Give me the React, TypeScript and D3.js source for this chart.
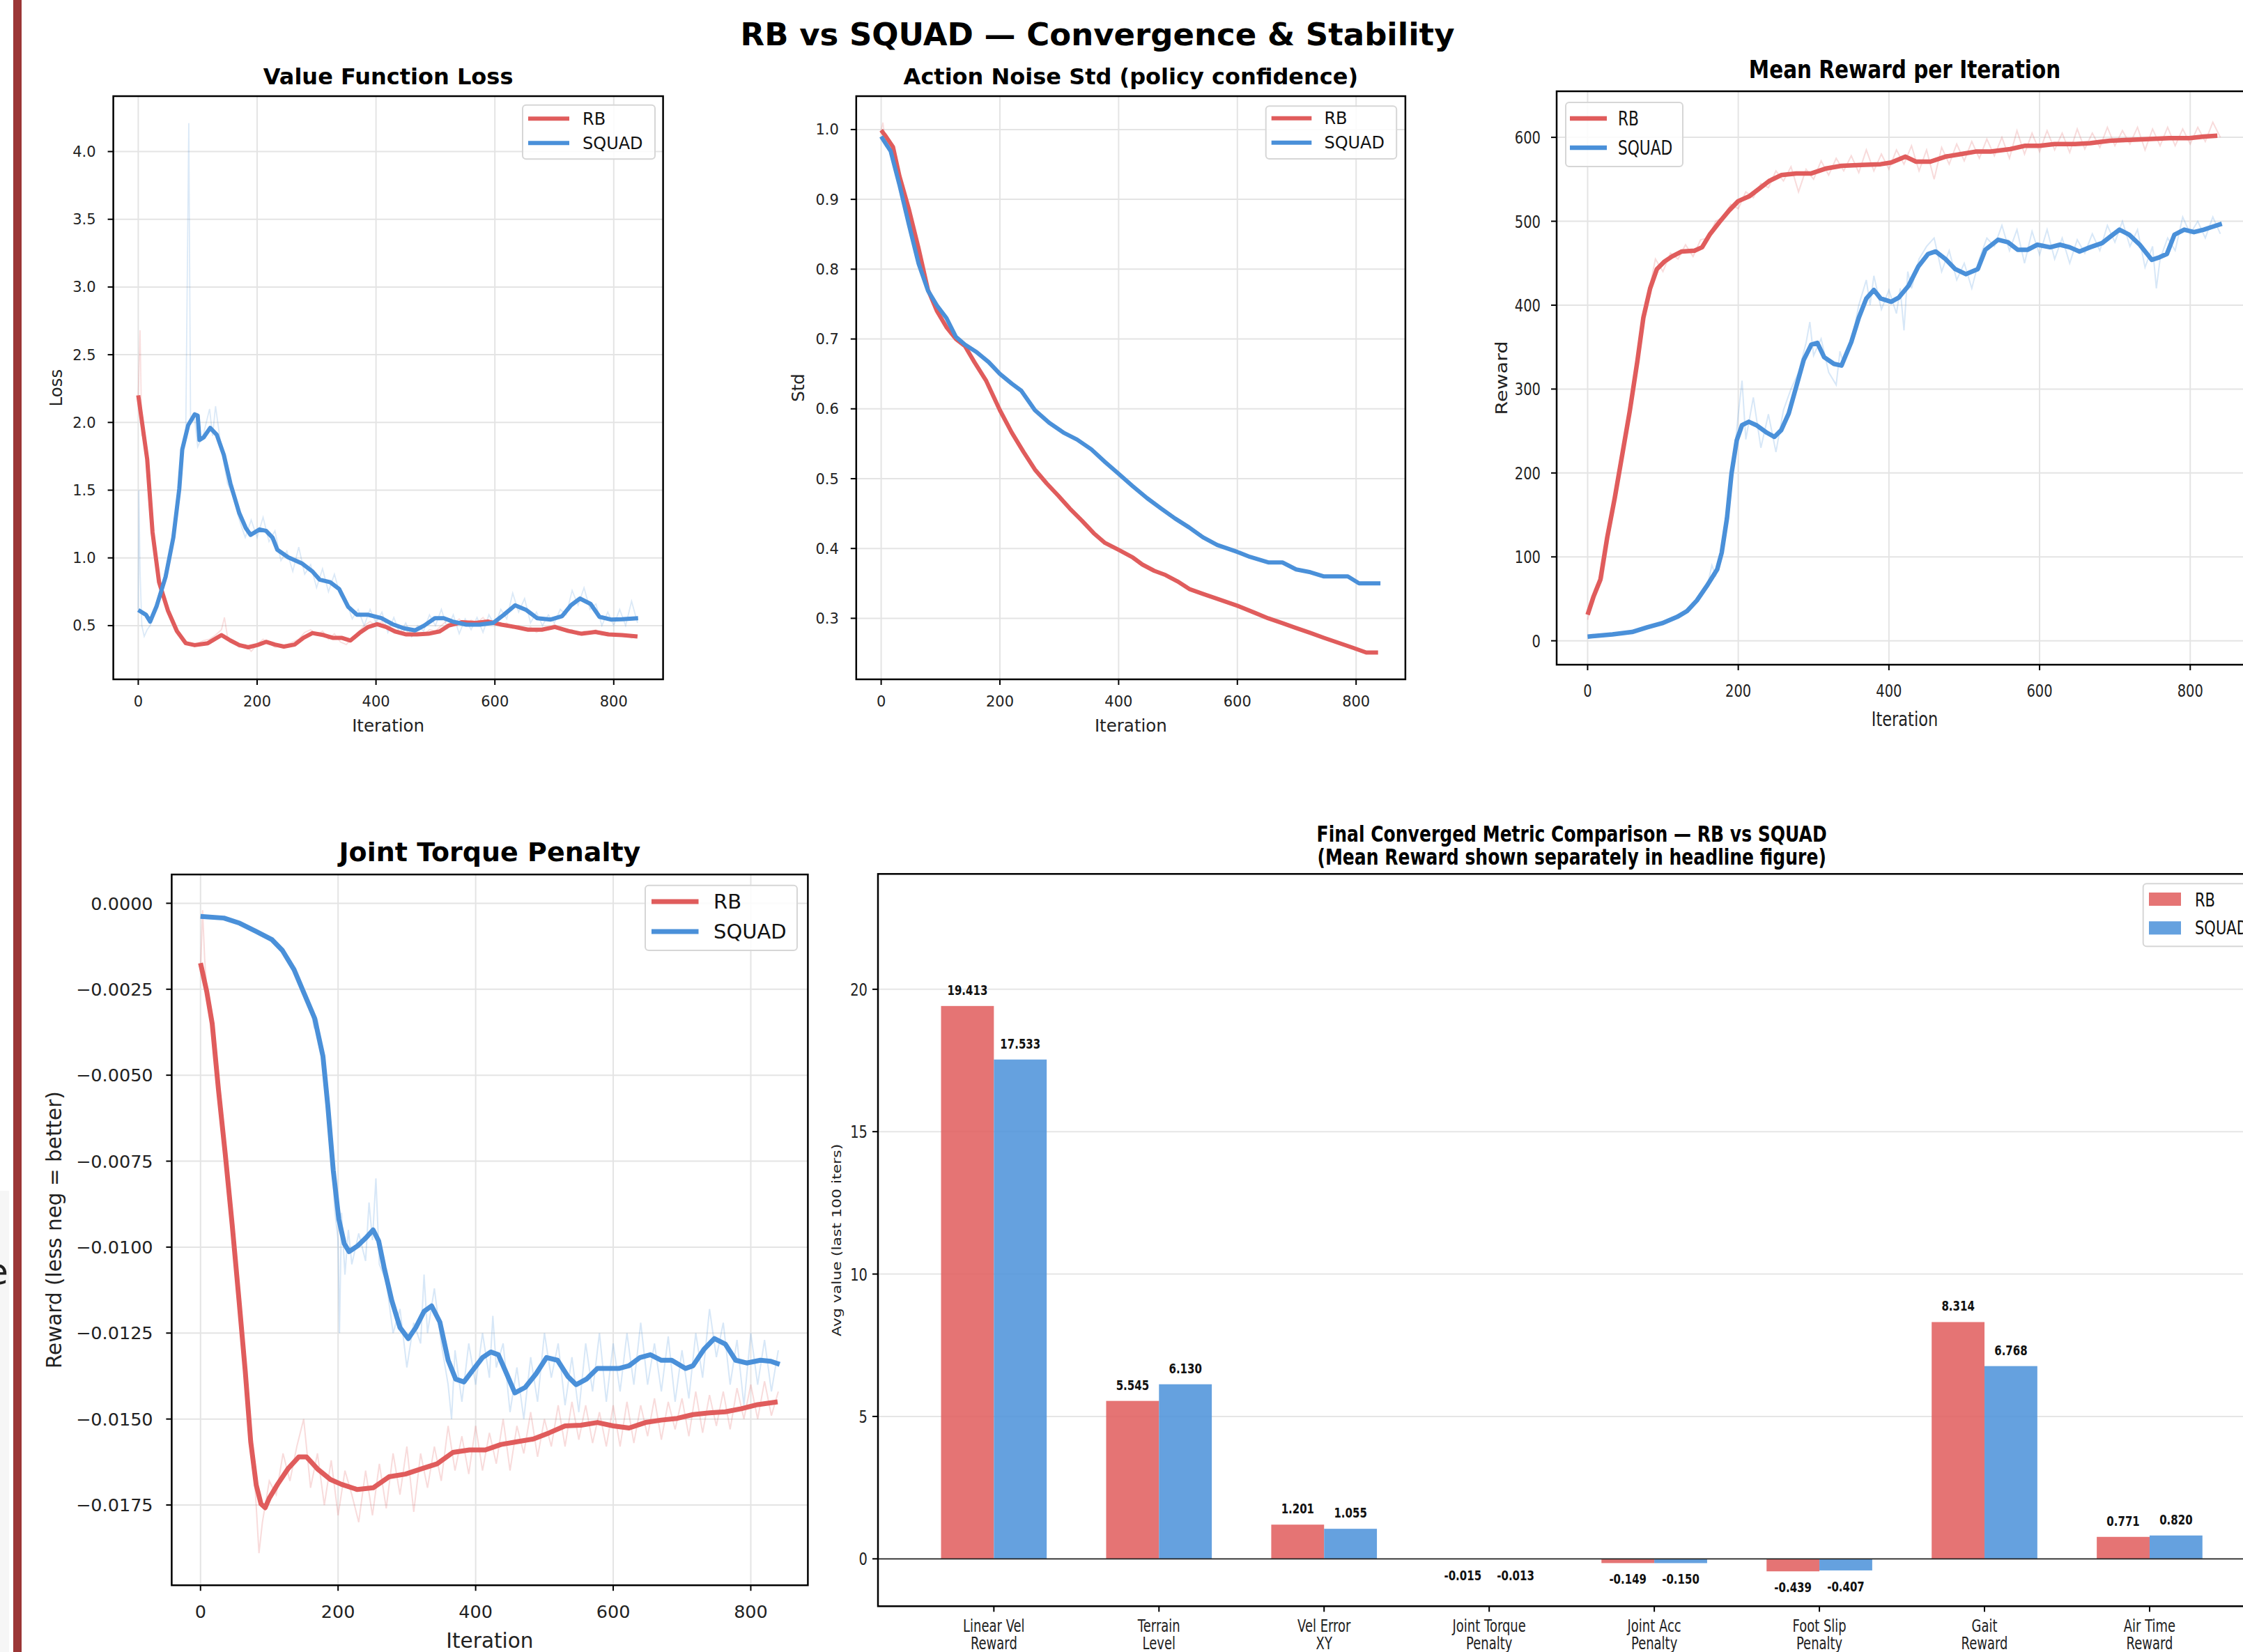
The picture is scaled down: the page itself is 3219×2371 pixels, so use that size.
import React from 'react';
import * as d3 from 'd3';

const W = 3219, H = 2371;
const FONT = "'DejaVu Sans', sans-serif";
const RED = '#E05C5C';
const BLUE = '#4A90D9';
const seriesNames = ['RB', 'SQUAD'];

type Pt = [number, number];

// ---------- Panel 1: Value Function Loss ----------
const lossRbSmooth: Pt[] = [[0,2.20],[15,1.73],[24,1.19],[35,0.82],[50,0.61],[65,0.46],[80,0.37],[95,0.356],[117,0.37],[140,0.43],[155,0.39],[170,0.356],[185,0.34],[200,0.356],[215,0.38],[230,0.36],[245,0.345],[263,0.36],[278,0.41],[293,0.445],[312,0.43],[327,0.41],[342,0.41],[357,0.39],[372,0.445],[387,0.49],[402,0.51],[417,0.49],[432,0.457],[451,0.435],[469,0.435],[488,0.44],[507,0.457],[522,0.50],[544,0.525],[567,0.52],[589,0.53],[611,0.507],[634,0.49],[656,0.47],[679,0.47],[701,0.49],[724,0.46],[746,0.44],[769,0.453],[791,0.435],[814,0.43],[840,0.42]];
const lossSqSmooth: Pt[] = [[0,0.615],[13,0.58],[20,0.53],[31,0.645],[46,0.86],[59,1.15],[69,1.51],[74,1.80],[84,1.98],[95,2.06],[100,2.05],[103,1.87],[110,1.89],[121,1.96],[132,1.91],[144,1.76],[155,1.55],[170,1.33],[181,1.22],[189,1.17],[204,1.21],[215,1.20],[226,1.15],[234,1.06],[252,1.005],[275,0.96],[293,0.90],[305,0.84],[323,0.82],[338,0.77],[353,0.64],[368,0.58],[387,0.58],[409,0.555],[428,0.51],[447,0.48],[466,0.465],[481,0.50],[499,0.555],[514,0.555],[529,0.53],[552,0.507],[574,0.507],[597,0.52],[615,0.58],[634,0.65],[653,0.615],[671,0.555],[694,0.545],[713,0.57],[728,0.65],[743,0.70],[761,0.66],[776,0.565],[795,0.545],[814,0.547],[841,0.555]];
const lossRbRaw: Pt[] = [[0,2.2],[3,2.68],[6,1.9],[10,1.95],[20,1.3],[30,0.95],[40,0.75],[50,0.6],[60,0.5],[70,0.42],[80,0.38],[90,0.36],[100,0.37],[110,0.39],[120,0.40],[130,0.43],[140,0.47],[145,0.56],[150,0.42],[160,0.38],[170,0.34],[180,0.36],[190,0.31],[200,0.36],[210,0.40],[220,0.37],[230,0.34],[240,0.35],[250,0.36],[260,0.38],[270,0.40],[280,0.45],[290,0.47],[300,0.43],[310,0.46],[320,0.40],[330,0.44],[340,0.38],[350,0.36],[360,0.41],[370,0.45],[380,0.50],[390,0.53],[400,0.50],[410,0.53],[420,0.47],[430,0.45],[440,0.44],[450,0.47],[460,0.42],[470,0.45],[480,0.43],[490,0.47],[500,0.46],[510,0.50],[520,0.54],[530,0.51],[540,0.55],[550,0.50],[560,0.54],[570,0.52],[580,0.56],[590,0.51],[600,0.54],[610,0.50],[620,0.52],[630,0.48],[640,0.50],[650,0.47],[660,0.49],[670,0.45],[680,0.48],[690,0.47],[700,0.51],[710,0.48],[720,0.46],[730,0.47],[740,0.43],[750,0.46],[760,0.45],[770,0.47],[780,0.43],[790,0.45],[800,0.42],[810,0.44],[820,0.43],[830,0.41],[840,0.43]];
const lossSqRaw: Pt[] = [[0,0.62],[1,1.5],[3,0.9],[6,0.5],[10,0.42],[15,0.47],[20,0.50],[30,0.62],[40,0.80],[50,0.98],[60,1.20],[70,1.62],[80,1.95],[85,4.21],[88,2.0],[95,2.02],[100,1.82],[110,1.92],[120,2.10],[125,1.90],[130,2.12],[140,1.80],[150,1.55],[160,1.45],[170,1.28],[180,1.15],[190,1.28],[200,1.15],[210,1.30],[220,1.12],[230,1.20],[240,0.98],[250,1.05],[260,0.90],[270,1.08],[280,0.88],[290,0.95],[300,0.78],[310,0.92],[320,0.75],[330,0.88],[340,0.72],[350,0.68],[360,0.55],[370,0.62],[380,0.50],[390,0.62],[400,0.52],[410,0.60],[420,0.45],[430,0.56],[440,0.44],[450,0.52],[460,0.42],[470,0.50],[480,0.46],[490,0.58],[500,0.50],[510,0.62],[520,0.48],[530,0.58],[540,0.44],[550,0.55],[560,0.47],[570,0.56],[580,0.45],[590,0.58],[600,0.50],[610,0.62],[620,0.55],[630,0.74],[640,0.60],[650,0.70],[660,0.52],[670,0.60],[680,0.50],[690,0.58],[700,0.52],[710,0.62],[720,0.58],[730,0.76],[740,0.65],[750,0.78],[760,0.62],[770,0.66],[780,0.50],[790,0.60],[800,0.50],[810,0.62],[820,0.50],[830,0.68],[840,0.52]];
const lossYTicks = [0.5, 1.0, 1.5, 2.0, 2.5, 3.0, 3.5, 4.0];

// ---------- Panel 2: Action Noise Std ----------
const stdRbSmooth: Pt[] = [[0,0.999],[8,0.99],[20,0.975],[31,0.933],[47,0.885],[63,0.83],[79,0.77],[94,0.74],[110,0.717],[126,0.70],[141,0.69],[157,0.667],[177,0.64],[200,0.598],[220,0.566],[240,0.538],[259,0.513],[279,0.493],[299,0.475],[318,0.457],[338,0.44],[358,0.422],[377,0.408],[400,0.398],[424,0.387],[440,0.377],[460,0.368],[479,0.362],[499,0.353],[519,0.342],[542,0.335],[566,0.328],[600,0.318],[629,0.308],[652,0.30],[676,0.293],[699,0.286],[723,0.279],[746,0.272],[770,0.265],[794,0.258],[817,0.251],[837,0.251]];
const stdSqSmooth: Pt[] = [[0,0.99],[16,0.969],[31,0.92],[47,0.863],[63,0.808],[79,0.769],[94,0.748],[110,0.73],[126,0.703],[141,0.692],[161,0.681],[181,0.667],[200,0.65],[220,0.636],[236,0.626],[259,0.598],[283,0.58],[307,0.566],[330,0.556],[354,0.542],[377,0.524],[400,0.507],[424,0.489],[448,0.472],[472,0.457],[495,0.443],[519,0.43],[542,0.416],[566,0.405],[600,0.395],[621,0.388],[652,0.38],[676,0.38],[699,0.37],[723,0.366],[746,0.36],[770,0.36],[786,0.36],[805,0.35],[841,0.35]];
const stdRbRaw: Pt[] = [[0,0.999],[3,1.01],[6,0.99],[10,0.985]];
const stdYTicks = [0.3, 0.4, 0.5, 0.6, 0.7, 0.8, 0.9, 1.0];

// ---------- Panel 3: Mean Reward ----------
const rewRbSmooth: Pt[] = [[0,31],[8,53],[17,73],[26,123],[36,170],[46,222],[56,274],[66,333],[74,385],[83,420],[92,443],[102,452],[112,458],[125,464],[142,465],[152,469],[162,484],[175,499],[188,513],[200,524],[215,530],[228,539],[241,548],[257,555],[277,557],[297,557],[317,563],[337,566],[363,567],[389,568],[403,570],[422,577],[436,571],[455,571],[475,577],[495,580],[515,583],[535,583],[561,586],[581,590],[600,590],[620,592],[647,592],[667,593],[693,596],[720,597],[746,598],[772,599],[799,599],[818,601],[836,602]];
const rewSqSmooth: Pt[] = [[0,5],[33,7.6],[59,10.5],[79,16],[99,21],[119,28.5],[132,35.5],[145,48],[158,65],[172,85],[178,105],[185,146],[191,199],[198,239],[205,257],[214,261],[224,257],[238,248],[248,243],[257,251],[267,271],[277,303],[287,335],[297,353],[305,355],[314,338],[327,330],[337,328],[350,356],[360,385],[370,408],[380,418],[389,408],[403,404],[413,409],[426,423],[439,446],[452,461],[462,464],[475,455],[488,443],[502,437],[518,443],[528,466],[545,478],[558,475],[571,466],[584,466],[597,472],[614,469],[627,472],[640,469],[653,464],[667,469],[683,474],[693,481],[706,490],[719,484],[733,472],[749,454],[759,457],[769,461],[779,484],[792,490],[805,487],[818,490],[828,493],[842,497]];
const rewRbRaw: Pt[] = [[0,25],[10,60],[20,75],[30,135],[40,190],[50,245],[60,300],[70,360],[80,410],[90,455],[100,440],[110,462],[120,455],[130,472],[140,458],[150,478],[160,480],[170,500],[180,505],[190,520],[200,515],[210,535],[220,528],[230,545],[240,540],[250,560],[260,548],[270,565],[280,535],[290,562],[300,550],[310,572],[320,555],[330,575],[340,560],[350,578],[360,558],[370,585],[380,560],[390,580],[400,562],[410,585],[420,568],[430,590],[440,560],[450,585],[460,550],[470,588],[480,568],[490,592],[500,572],[510,595],[520,575],[530,598],[540,578],[550,600],[560,575],[570,608],[580,580],[590,605],[600,583],[610,608],[620,585],[630,605],[640,582],[650,610],[660,586],[670,605],[680,588],[690,612],[700,590],[710,608],[720,592],[730,612],[740,585],[750,610],[760,590],[770,612],[780,590],[790,610],[800,592],[810,612],[820,595],[830,618],[840,600]];
const rewSqRaw: Pt[] = [[0,5],[10,6],[20,6],[30,7],[40,8],[50,9],[60,10],[70,13],[80,16],[90,19],[100,21],[110,25],[120,29],[130,34],[140,44],[150,55],[160,70],[165,90],[170,78],[180,112],[190,180],[200,270],[205,310],[210,240],[220,290],[230,230],[240,270],[250,225],[260,275],[270,300],[280,320],[290,355],[295,380],[300,340],[310,360],[320,320],[330,305],[335,345],[340,330],[350,355],[360,400],[370,430],[375,400],[380,435],[390,395],[400,418],[410,390],[415,420],[420,370],[425,440],[430,420],[440,455],[450,470],[460,480],[470,440],[480,465],[490,430],[500,450],[510,420],[520,455],[530,480],[540,470],[550,495],[560,465],[570,490],[580,450],[590,488],[600,460],[610,490],[620,455],[630,480],[640,450],[650,478],[660,462],[670,485],[680,465],[690,495],[700,475],[710,500],[720,470],[730,490],[740,445],[750,470],[755,420],[760,455],[770,480],[780,465],[790,505],[800,485],[810,500],[820,480],[830,505],[840,485]];
const rewYTicks = [0, 100, 200, 300, 400, 500, 600];

// ---------- Panel 4: Joint Torque Penalty ----------
const tqRbSmooth: Pt[] = [[0,-0.00174],[9,-0.00256],[17,-0.0035],[26,-0.0054],[36,-0.0073],[46,-0.00934],[56,-0.01155],[65,-0.0136],[73,-0.01566],[81,-0.01692],[88,-0.01747],[94,-0.01758],[100,-0.0173],[112,-0.0169],[127,-0.01645],[143,-0.0161],[154,-0.0161],[170,-0.01645],[189,-0.01676],[205,-0.0169],[228,-0.01705],[251,-0.017],[274,-0.01668],[298,-0.0166],[321,-0.01645],[344,-0.0163],[367,-0.01597],[391,-0.0159],[414,-0.0159],[437,-0.01574],[460,-0.01566],[484,-0.01558],[507,-0.0154],[530,-0.0152],[553,-0.01518],[577,-0.0151],[600,-0.0152],[623,-0.01526],[647,-0.0151],[670,-0.01503],[693,-0.01498],[716,-0.01487],[740,-0.01482],[763,-0.01479],[786,-0.0147],[810,-0.01458],[839,-0.0145]];
const tqSqSmooth: Pt[] = [[0,-0.00038],[34,-0.00043],[57,-0.00058],[81,-0.00082],[104,-0.00106],[119,-0.00137],[136,-0.00193],[151,-0.00264],[166,-0.00335],[178,-0.00445],[185,-0.00587],[193,-0.00777],[201,-0.00918],[209,-0.0099],[216,-0.01013],[228,-0.00997],[240,-0.00974],[251,-0.0095],[259,-0.00982],[267,-0.0106],[278,-0.01155],[290,-0.01234],[302,-0.01266],[313,-0.01234],[325,-0.01187],[336,-0.01171],[348,-0.01218],[360,-0.01329],[371,-0.01384],[383,-0.01392],[395,-0.0136],[410,-0.01321],[422,-0.01305],[433,-0.01313],[445,-0.01368],[457,-0.01424],[472,-0.01408],[488,-0.01368],[503,-0.01321],[519,-0.01329],[534,-0.01376],[546,-0.014],[561,-0.01384],[577,-0.01353],[592,-0.01353],[608,-0.01353],[623,-0.01345],[639,-0.01321],[654,-0.01313],[670,-0.01329],[685,-0.01329],[705,-0.01353],[716,-0.01345],[732,-0.01297],[747,-0.01266],[763,-0.01282],[778,-0.01329],[794,-0.01337],[814,-0.01329],[829,-0.01332],[842,-0.01341]];
const tqRbRaw: Pt[] = [[0,-0.0020],[3,-0.0002],[6,-0.0016],[10,-0.0028],[20,-0.0040],[30,-0.0062],[40,-0.0082],[50,-0.0102],[60,-0.0125],[70,-0.0150],[80,-0.0172],[85,-0.0189],[90,-0.0180],[100,-0.0168],[110,-0.0172],[120,-0.0160],[130,-0.0168],[140,-0.0158],[150,-0.0150],[160,-0.0170],[170,-0.0160],[180,-0.0175],[190,-0.0162],[200,-0.0178],[210,-0.0165],[220,-0.0172],[230,-0.0180],[240,-0.0165],[250,-0.0178],[260,-0.0163],[270,-0.0176],[280,-0.0160],[290,-0.0172],[300,-0.0158],[310,-0.0177],[320,-0.0160],[330,-0.0170],[340,-0.0158],[350,-0.0168],[360,-0.0152],[370,-0.0165],[380,-0.0155],[390,-0.0166],[400,-0.0152],[410,-0.0165],[420,-0.0154],[430,-0.0163],[440,-0.0150],[450,-0.0165],[460,-0.0152],[470,-0.0160],[480,-0.0148],[490,-0.0161],[500,-0.0150],[510,-0.0158],[520,-0.0146],[530,-0.0158],[540,-0.0145],[550,-0.0156],[560,-0.0146],[570,-0.0157],[580,-0.0148],[590,-0.0158],[600,-0.0146],[610,-0.0158],[620,-0.0145],[630,-0.0157],[640,-0.0146],[650,-0.0155],[660,-0.0144],[670,-0.0156],[680,-0.0145],[690,-0.0153],[700,-0.0144],[710,-0.0155],[720,-0.0142],[730,-0.0154],[740,-0.0143],[750,-0.0152],[760,-0.0142],[770,-0.0153],[780,-0.0141],[790,-0.0150],[800,-0.0140],[810,-0.0150],[820,-0.0139],[830,-0.0149],[840,-0.0142]];
const tqSqRaw: Pt[] = [[0,-0.0004],[10,-0.0004],[20,-0.0004],[30,-0.0004],[40,-0.0005],[50,-0.0005],[60,-0.0006],[70,-0.0007],[80,-0.0008],[90,-0.0009],[100,-0.0010],[110,-0.0012],[120,-0.0014],[130,-0.0017],[140,-0.0021],[150,-0.0026],[160,-0.0030],[165,-0.0036],[170,-0.0034],[175,-0.0042],[180,-0.0050],[190,-0.0070],[195,-0.0089],[200,-0.0098],[202,-0.0125],[205,-0.0090],[210,-0.0108],[215,-0.0095],[220,-0.0105],[230,-0.0096],[240,-0.0104],[245,-0.0087],[250,-0.0098],[255,-0.0080],[260,-0.0105],[270,-0.0110],[280,-0.0125],[290,-0.0118],[300,-0.0135],[310,-0.0122],[320,-0.0128],[325,-0.0108],[330,-0.0125],[340,-0.0112],[345,-0.0120],[350,-0.0128],[360,-0.0140],[365,-0.0150],[370,-0.0130],[380,-0.0145],[390,-0.0128],[400,-0.0140],[410,-0.0125],[420,-0.0138],[425,-0.0120],[430,-0.0135],[440,-0.0128],[450,-0.0148],[460,-0.0135],[470,-0.0150],[480,-0.0132],[490,-0.0145],[500,-0.0125],[510,-0.0138],[520,-0.0128],[530,-0.0146],[540,-0.0132],[550,-0.0148],[560,-0.0128],[570,-0.0142],[580,-0.0125],[590,-0.0145],[600,-0.0128],[610,-0.0142],[620,-0.0125],[630,-0.0140],[640,-0.0122],[650,-0.0140],[660,-0.0128],[670,-0.0142],[680,-0.0126],[690,-0.0145],[700,-0.0130],[710,-0.0144],[720,-0.0125],[730,-0.0138],[740,-0.0118],[750,-0.0132],[760,-0.0122],[770,-0.0140],[780,-0.0127],[790,-0.0146],[800,-0.0125],[810,-0.0140],[820,-0.0127],[830,-0.0142],[840,-0.0130]];
const tqYTicks = [0, -0.0025, -0.005, -0.0075, -0.01, -0.0125, -0.015, -0.0175];

const iterTicks = [0, 200, 400, 600, 800];

// ---------- Panel 5: Final metric bars ----------
const metricLabels: [string, string][] = [
  ['Linear Vel', 'Reward'], ['Terrain', 'Level'], ['Vel Error', 'XY'], ['Joint Torque', 'Penalty'],
  ['Joint Acc', 'Penalty'], ['Foot Slip', 'Penalty'], ['Gait', 'Reward'], ['Air Time', 'Reward'],
];
const rbFinal = [19.413, 5.545, 1.201, -0.015, -0.149, -0.439, 8.314, 0.771];
const squadFinal = [17.533, 6.130, 1.055, -0.013, -0.150, -0.407, 6.768, 0.820];
const barYTicks = [0, 5, 10, 15, 20];

// ---------- helpers ----------
function T(p: { x: number; y: number; sx?: number; rot?: number; anchor?: string; size: number; weight?: string | number; fill?: string; dy?: string; children: React.ReactNode }) {
  const tr = `translate(${p.x},${p.y}) scale(${p.sx ?? 1},1)` + (p.rot ? ` rotate(${p.rot})` : '');
  return (
    <text transform={tr} textAnchor={p.anchor ?? 'middle'} fontSize={p.size} fontWeight={p.weight ?? 'normal'}
      fontFamily={FONT} fill={p.fill ?? '#111'} dy={p.dy}>{p.children}</text>
  );
}

interface Series { smooth: Pt[]; raw?: Pt[]; color: string; name: string }
interface PanelCfg {
  id: string;
  left: number; right: number; top: number; bottom: number;
  xDomain: [number, number]; yDomain: [number, number];
  yTicks: number[]; yFmt: (v: number) => string;
  title: string; titleSize: number; titleY: number; titleSx: number;
  tickSize: number; tickSx: number; xTickY: number; yTickRight: number;
  labelSize: number; labelSx: number; xlabelY: number;
  ylabel: string; ylabelX: number;
  lineW: number; rawW: number; rawOp: number;
  legend: { x0: number; y0: number; x1: number; y1: number; lx0: number; lx1: number; ly: number[]; tx: number; size: number; sx: number };
  series: Series[];
}

function LinePanel({ c }: { c: PanelCfg }) {
  const x = d3.scaleLinear().domain(c.xDomain).range([c.left, c.right]);
  const y = d3.scaleLinear().domain(c.yDomain).range([c.bottom, c.top]);
  const line = d3.line<Pt>().x(d => x(d[0])).y(d => y(d[1]));
  const cx = (c.left + c.right) / 2;
  const cy = (c.top + c.bottom) / 2;
  const L = c.legend;
  return (
    <g>
      <defs>
        <clipPath id={`clip-${c.id}`}>
          <rect x={c.left} y={c.top} width={c.right - c.left} height={c.bottom - c.top} />
        </clipPath>
      </defs>
      {iterTicks.map(t => (
        <line key={'gx' + t} x1={x(t)} x2={x(t)} y1={c.top} y2={c.bottom} stroke="#e4e4e4" strokeWidth={2} />
      ))}
      {c.yTicks.map(t => (
        <line key={'gy' + t} x1={c.left} x2={c.right} y1={y(t)} y2={y(t)} stroke="#e4e4e4" strokeWidth={2} />
      ))}
      <g clipPath={`url(#clip-${c.id})`}>
        {c.series.map(s => s.raw ? (
          <path key={'r' + s.name} d={line(s.raw) ?? ''} fill="none" stroke={s.color} strokeOpacity={c.rawOp} strokeWidth={c.rawW} />
        ) : null)}
        {c.series.map(s => (
          <path key={'s' + s.name} d={line(s.smooth) ?? ''} fill="none" stroke={s.color} strokeWidth={c.lineW} strokeLinejoin="round" />
        ))}
      </g>
      <rect x={c.left} y={c.top} width={c.right - c.left} height={c.bottom - c.top} fill="none" stroke="#000" strokeWidth={2.5} />
      {iterTicks.map(t => (
        <g key={'tx' + t}>
          <line x1={x(t)} x2={x(t)} y1={c.bottom} y2={c.bottom + 8} stroke="#000" strokeWidth={2} />
          <T x={x(t)} y={c.xTickY} size={c.tickSize} sx={c.tickSx} fill="#222">{t}</T>
        </g>
      ))}
      {c.yTicks.map(t => (
        <g key={'ty' + t}>
          <line x1={c.left - 8} x2={c.left} y1={y(t)} y2={y(t)} stroke="#000" strokeWidth={2} />
          <T x={c.yTickRight} y={y(t)} size={c.tickSize} sx={c.tickSx} anchor="end" dy="0.36em" fill="#222">{c.yFmt(t)}</T>
        </g>
      ))}
      <T x={cx} y={c.titleY} size={c.titleSize} sx={c.titleSx} weight="bold" fill="#000">{c.title}</T>
      <T x={cx} y={c.xlabelY} size={c.labelSize} sx={c.labelSx} fill="#222">Iteration</T>
      <T x={c.ylabelX} y={cy} size={c.labelSize} sx={c.labelSx} rot={-90} fill="#222">{c.ylabel}</T>
      <rect x={L.x0} y={L.y0} width={L.x1 - L.x0} height={L.y1 - L.y0} rx={5} fill="#fff" fillOpacity={0.85} stroke="#d6d6d6" strokeWidth={2} />
      {c.series.map((s, i) => (
        <g key={'lg' + s.name}>
          <line x1={L.lx0} x2={L.lx1} y1={L.ly[i]} y2={L.ly[i]} stroke={s.color} strokeWidth={c.lineW} />
          <T x={L.tx} y={L.ly[i]} size={L.size} sx={L.sx} anchor="start" dy="0.36em" fill="#111">{s.name}</T>
        </g>
      ))}
    </g>
  );
}

const fmt1 = d3.format('.1f');
const fmt4 = d3.format('.4f');
const fmt0 = d3.format('d');

const panels: PanelCfg[] = [
  {
    id: 'loss', left: 162.6, right: 951.6, top: 138, bottom: 975,
    xDomain: [-42, 883], yDomain: [0.1034, 4.409], yTicks: lossYTicks, yFmt: fmt1,
    title: 'Value Function Loss', titleSize: 32, titleY: 120.7, titleSx: 1,
    tickSize: 21, tickSx: 1, xTickY: 1014, yTickRight: 137.6,
    labelSize: 24.5, labelSx: 1, xlabelY: 1050, ylabel: 'Loss', ylabelX: 89,
    lineW: 6, rawW: 1.8, rawOp: 0.2,
    legend: { x0: 750, y0: 150.7, x1: 940, y1: 228.3, lx0: 758, lx1: 817, ly: [170.3, 205.3], tx: 836, size: 24, sx: 1 },
    series: [
      { name: seriesNames[0], color: RED, smooth: lossRbSmooth, raw: lossRbRaw },
      { name: seriesNames[1], color: BLUE, smooth: lossSqSmooth, raw: lossSqRaw },
    ],
  },
  {
    id: 'std', left: 1228.8, right: 2016.9, top: 138, bottom: 975,
    xDomain: [-42, 883], yDomain: [0.2126, 1.0478], yTicks: stdYTicks, yFmt: fmt1,
    title: 'Action Noise Std (policy confidence)', titleSize: 32, titleY: 121, titleSx: 1,
    tickSize: 21, tickSx: 1, xTickY: 1014, yTickRight: 1203.8,
    labelSize: 24.5, labelSx: 1, xlabelY: 1050, ylabel: 'Std', ylabelX: 1153.8,
    lineW: 6, rawW: 1.8, rawOp: 0.2,
    legend: { x0: 1816.7, y0: 152.2, x1: 2004.2, y1: 228, lx0: 1824.7, lx1: 1882.3, ly: [169.8, 204.8], tx: 1900.4, size: 24, sx: 1 },
    series: [
      { name: seriesNames[0], color: RED, smooth: stdRbSmooth, raw: stdRbRaw },
      { name: seriesNames[1], color: BLUE, smooth: stdSqSmooth },
    ],
  },
  {
    id: 'rew', left: 2234, right: 3233, top: 131, bottom: 954,
    xDomain: [-41.1, 883], yDomain: [-28.5, 654.9], yTicks: rewYTicks, yFmt: fmt0,
    title: 'Mean Reward per Iteration', titleSize: 36, titleY: 112, titleSx: 0.82,
    tickSize: 25, tickSx: 0.78, xTickY: 1000, yTickRight: 2211,
    labelSize: 28.5, labelSx: 0.79, xlabelY: 1042, ylabel: 'Reward', ylabelX: 2163,
    lineW: 6.5, rawW: 2, rawOp: 0.22,
    legend: { x0: 2247, y0: 147, x1: 2415, y1: 239, lx0: 2253, lx1: 2306, ly: [170, 212], tx: 2322, size: 27.5, sx: 0.79 },
    series: [
      { name: seriesNames[0], color: RED, smooth: rewRbSmooth, raw: rewRbRaw },
      { name: seriesNames[1], color: BLUE, smooth: rewSqSmooth, raw: rewSqRaw },
    ],
  },
  {
    id: 'tq', left: 246.4, right: 1159.4, top: 1255.1, bottom: 2275.2,
    xDomain: [-41.9, 883], yDomain: [-0.019834, 0.000837], yTicks: tqYTicks, yFmt: fmt4,
    title: 'Joint Torque Penalty', titleSize: 38, titleY: 1235.7, titleSx: 1,
    tickSize: 25.5, tickSx: 1, xTickY: 2322, yTickRight: 219.6,
    labelSize: 29.5, labelSx: 1, xlabelY: 2365, ylabel: 'Reward (less neg = better)', ylabelX: 88,
    lineW: 7, rawW: 2, rawOp: 0.22,
    legend: { x0: 926, y0: 1270.7, x1: 1144, y1: 1364.1, lx0: 935, lx1: 1002.5, ly: [1294, 1337], tx: 1024, size: 29, sx: 1 },
    series: [
      { name: seriesNames[0], color: RED, smooth: tqRbSmooth, raw: tqRbRaw },
      { name: seriesNames[1], color: BLUE, smooth: tqSqSmooth, raw: tqSqRaw },
    ],
  },
];

function BarPanel() {
  const left = 1260, right = 3251.3, top = 1254.3, bottom = 2305.3;
  const sx = 0.78;
  const x = d3.scaleLinear().domain([-0.702, 7.702]).range([left, right]);
  const y = d3.scaleLinear().domain([-1.664, 24.05]).range([bottom, top]);
  const bw = x(0.32) - x(0);
  const groups = [
    { name: seriesNames[0], color: RED, vals: rbFinal, off: -0.16 },
    { name: seriesNames[1], color: BLUE, vals: squadFinal, off: 0.16 },
  ];
  const cx = (left + right) / 2;
  return (
    <g>
      {barYTicks.filter(t => t !== 0).map(t => (
        <line key={'g' + t} x1={left} x2={right} y1={y(t)} y2={y(t)} stroke="#e6e6e6" strokeWidth={2} />
      ))}
      {groups.map(g => g.vals.map((v, i) => {
        const xc = x(i + g.off);
        const y0 = y(0), y1 = y(v);
        return (
          <rect key={g.name + i} x={xc - bw / 2} y={Math.min(y0, y1)} width={bw} height={Math.abs(y1 - y0)}
            fill={g.color} fillOpacity={0.85} />
        );
      }))}
      <line x1={left} x2={right} y1={y(0)} y2={y(0)} stroke="#222" strokeWidth={1.8} />
      {groups.map(g => g.vals.map((v, i) => {
        const xc = x(i + g.off);
        const ty = v >= 0 ? y(v) - 16 : y(v) + 30;
        return <T key={'v' + g.name + i} x={xc} y={ty} size={20} sx={0.75} weight="bold" fill="#111">{v.toFixed(3)}</T>;
      }))}
      <rect x={left} y={top} width={right - left} height={bottom - top} fill="none" stroke="#000" strokeWidth={2.5} />
      {barYTicks.map(t => (
        <g key={'t' + t}>
          <line x1={left - 8} x2={left} y1={y(t)} y2={y(t)} stroke="#000" strokeWidth={2} />
          <T x={1245} y={y(t)} size={25} sx={sx} anchor="end" dy="0.36em" fill="#222">{t}</T>
        </g>
      ))}
      {metricLabels.map((lab, i) => (
        <g key={'c' + i}>
          <line x1={x(i)} x2={x(i)} y1={bottom} y2={bottom + 8} stroke="#000" strokeWidth={2} />
          <T x={x(i)} y={2341.7} size={24.3} sx={0.74} fill="#222">{lab[0]}</T>
          <T x={x(i)} y={2366.5} size={24.3} sx={0.74} fill="#222">{lab[1]}</T>
        </g>
      ))}
      <T x={cx} y={1208} size={31.5} sx={0.795} weight="bold" fill="#000">Final Converged Metric Comparison — RB vs SQUAD</T>
      <T x={cx} y={1241} size={31.5} sx={0.795} weight="bold" fill="#000">(Mean Reward shown separately in headline figure)</T>
      <T x={1207} y={(top + bottom) / 2} size={22} sx={sx} rot={-90} fill="#222">Avg value (last 100 iters)</T>
      <rect x={3075.7} y={1268.3} width={260} height={90} rx={5} fill="#fff" fillOpacity={0.85} stroke="#d6d6d6" strokeWidth={2} />
      {groups.map((g, i) => (
        <g key={'lg' + g.name}>
          <rect x={3084} y={i === 0 ? 1281 : 1322.3} width={46} height={19} fill={g.color} fillOpacity={0.85} />
          <T x={3150} y={i === 0 ? 1300.7 : 1340.7} size={26} sx={0.81} anchor="start" fill="#111">{g.name}</T>
        </g>
      ))}
    </g>
  );
}

export default function App() {
  return (
    <svg width={W} height={H} viewBox={`0 0 ${W} ${H}`} style={{ position: 'absolute', left: 0, top: 0, background: '#fff' }}
      xmlns="http://www.w3.org/2000/svg">
      <rect x={0} y={0} width={W} height={H} fill="#fff" />
      <rect x={0} y={1709} width={13} height={H - 1709} fill="#f6f6f6" />
      <text x={-20} y={1843} fontSize={52} fontFamily={FONT} fill="#222">e</text>
      <rect x={19} y={0} width={12} height={H} fill="#9B3636" />
      <T x={1575} y={64.5} size={45} weight="bold" fill="#000">RB vs SQUAD — Convergence &amp; Stability</T>
      {panels.map(p => <LinePanel key={p.id} c={p} />)}
      <BarPanel />
    </svg>
  );
}
